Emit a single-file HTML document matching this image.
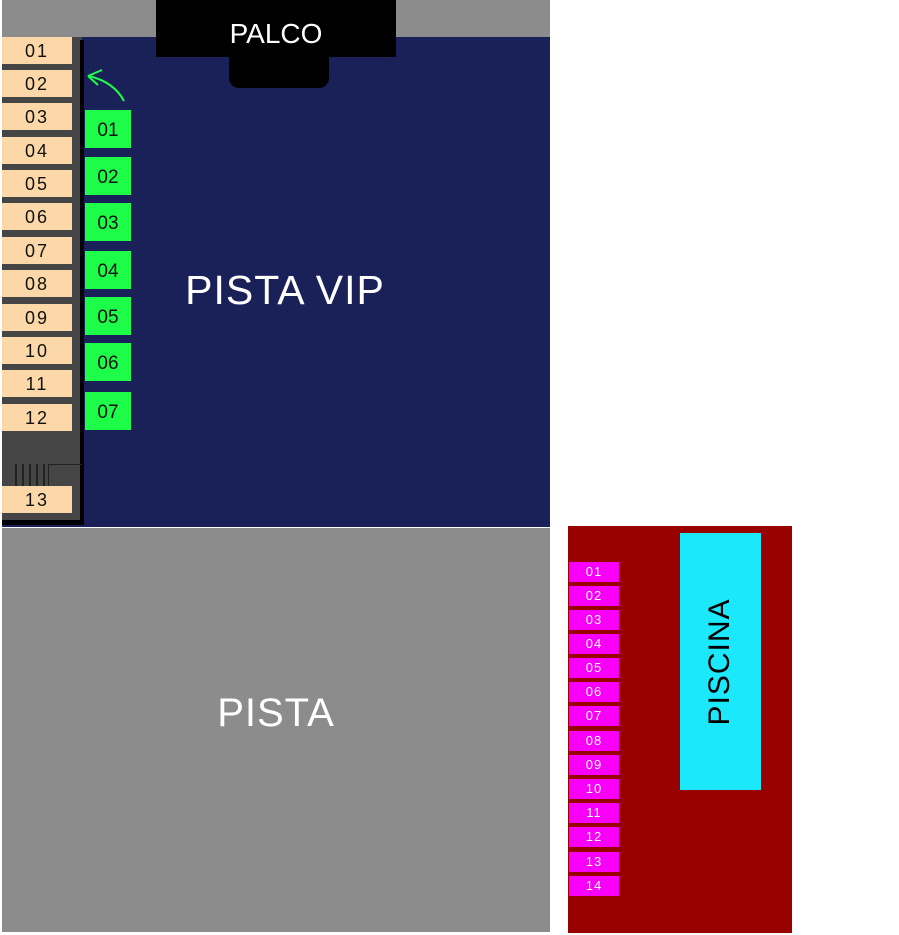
<!DOCTYPE html>
<html><head><style>
body{margin:0;width:899px;height:935px;background:#fff;position:relative;overflow:hidden;font-family:"Liberation Sans",sans-serif}
div{position:absolute;box-sizing:border-box}
.p{left:2px;width:70px;height:27px;background:#fcd8a8;color:#111;font-size:18px;text-align:center;line-height:28px;letter-spacing:2px}
.g{left:85px;width:46px;height:38px;background:#1efc4a;color:#111;font-size:19px;text-align:center;line-height:41px}
.m{left:569px;width:50px;height:20px;background:#f800f8;color:#fff;font-size:13px;text-align:center;line-height:20px;letter-spacing:1px}
</style></head><body>
<div style="left:2px;top:0;width:548px;height:37px;background:#8c8c8c"></div>
<div style="left:2px;top:37px;width:548px;height:490px;background:#1a2159"></div>
<div style="left:2px;top:37px;width:80px;height:486px;background:#454545"></div>
<div style="left:80px;top:40px;width:4px;height:485px;background:#000"></div>
<div style="left:2px;top:520px;width:82px;height:5px;background:#000"></div>
<div style="left:48px;top:464px;width:34px;height:22px;border-left:1px solid #222;border-top:1px solid #222"></div>
<div style="left:10px;top:464px;width:35px;height:22px;background:repeating-linear-gradient(90deg,#454545 0 5px,#222 5px 7px)"></div>
<div class="p" style="top:37px">01</div>
<div class="p" style="top:70px">02</div>
<div class="p" style="top:103px">03</div>
<div class="p" style="top:137px">04</div>
<div class="p" style="top:170px">05</div>
<div class="p" style="top:203px">06</div>
<div class="p" style="top:237px">07</div>
<div class="p" style="top:270px">08</div>
<div class="p" style="top:304px">09</div>
<div class="p" style="top:337px">10</div>
<div class="p" style="top:370px">11</div>
<div class="p" style="top:404px">12</div>
<div class="p" style="top:486px">13</div>
<div class="g" style="top:110px">01</div>
<div class="g" style="top:157px">02</div>
<div class="g" style="top:203px">03</div>
<div class="g" style="top:251px">04</div>
<div class="g" style="top:297px">05</div>
<div class="g" style="top:343px">06</div>
<div class="g" style="top:392px">07</div>
<svg style="position:absolute;left:84px;top:68px" width="50" height="40"><path d="M40 33 Q30 14 5 8" stroke="#1efc4a" stroke-width="2" fill="none"/><path d="M4 8 L18 2 M4 8 L14 17" stroke="#1efc4a" stroke-width="2" fill="none"/></svg>
<div style="left:156px;top:0;width:240px;height:57px;background:#000;color:#fff;font-size:28px;text-align:center;line-height:68px">PALCO</div>
<div style="left:229px;top:56px;width:100px;height:32px;background:#000;border-radius:0 0 10px 10px"></div>
<div style="left:150px;top:267px;width:270px;color:#fff;font-size:41px;text-align:center;letter-spacing:1px">PISTA VIP</div>
<div style="left:2px;top:528px;width:548px;height:404px;background:#8c8c8c;color:#fff;font-size:40px;text-align:center;line-height:370px;letter-spacing:1px">PISTA</div>
<div style="left:568px;top:526px;width:224px;height:407px;background:#990000"></div>
<div style="left:680px;top:533px;width:81px;height:257px;background:#1ce8fc"></div>
<div style="left:590px;top:644px;width:260px;height:36px;transform:rotate(-90deg);color:#000;font-size:30px;text-align:center;line-height:36px;letter-spacing:1px">PISCINA</div>
<div class="m" style="top:562px">01</div>
<div class="m" style="top:586px">02</div>
<div class="m" style="top:610px">03</div>
<div class="m" style="top:634px">04</div>
<div class="m" style="top:658px">05</div>
<div class="m" style="top:682px">06</div>
<div class="m" style="top:706px">07</div>
<div class="m" style="top:731px">08</div>
<div class="m" style="top:755px">09</div>
<div class="m" style="top:779px">10</div>
<div class="m" style="top:803px">11</div>
<div class="m" style="top:827px">12</div>
<div class="m" style="top:852px">13</div>
<div class="m" style="top:876px">14</div>
</body></html>
